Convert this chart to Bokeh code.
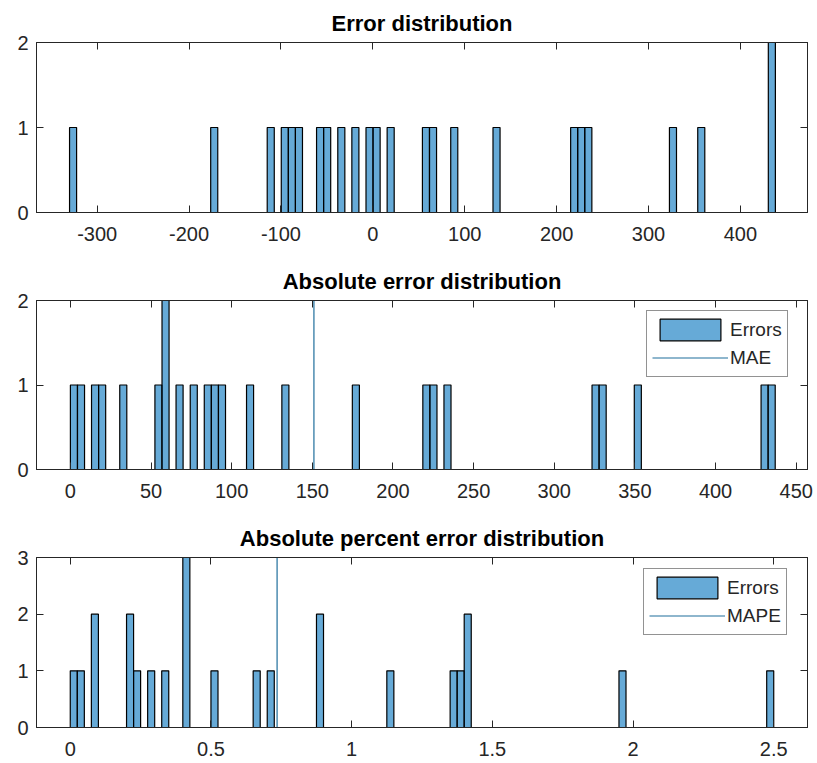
from bokeh.plotting import figure
from bokeh.models import Range1d, LinearAxis, FixedTicker, Legend, LegendItem, ColumnDataSource
from bokeh.layouts import column
from bokeh.embed import file_html
from bokeh.resources import INLINE

# ---------------- data ----------------
# Panel 1: error histogram (bin centres, counts)
err_bin_width = 7.68
err_centers = [-326.2, -172.6, -111.1, -95.8, -88.1, -80.4, -57.4, -49.7, -34.3, -19.0,
               -3.6, 4.1, 19.4, 57.8, 65.5, 88.6, 134.6, 219.1, 226.8, 234.5, 326.6, 357.4, 434.2]
err_counts = [1, 1, 1, 1, 1, 1, 1, 1, 1, 1, 1, 1, 1, 1, 1, 1, 1, 1, 1, 1, 1, 1, 2]
err_xticks = [-300, -200, -100, 0, 100, 200, 300, 400]
err_xlabels = ["-300", "-200", "-100", "0", "100", "200", "300", "400"]
err_yticks = [0, 1, 2]

# Panel 2: absolute error histogram
abs_bin_width = 4.37
abs_centers = [2.2, 6.6, 15.3, 19.7, 32.8, 54.6, 59.0, 67.7, 76.5, 85.2, 89.6, 94.0, 111.4,
               133.3, 177.0, 220.7, 225.1, 233.8, 325.6, 330.0, 351.8, 430.4, 434.8]
abs_counts = [1, 1, 1, 1, 1, 1, 2, 1, 1, 1, 1, 1, 1, 1, 1, 1, 1, 1, 1, 1, 1, 1, 1]
mae = 151.0
abs_xticks = [0, 50, 100, 150, 200, 250, 300, 350, 400, 450]
abs_xlabels = ["0", "50", "100", "150", "200", "250", "300", "350", "400", "450"]
abs_yticks = [0, 1, 2]

# Panel 3: absolute percent error histogram
pct_bin_width = 0.025
pct_centers = [0.0125, 0.0375, 0.0875, 0.2125, 0.2375, 0.2875, 0.3375, 0.4125, 0.5125,
               0.6625, 0.7125, 0.8875, 1.1375, 1.3625, 1.3875, 1.4125, 1.9625, 2.4875]
pct_counts = [1, 1, 2, 2, 1, 1, 1, 3, 1, 1, 1, 2, 1, 1, 1, 2, 1, 1]
mape = 0.735
pct_xticks = [0, 0.5, 1, 1.5, 2, 2.5]
pct_xlabels = ["0", "0.5", "1", "1.5", "2", "2.5"]
pct_yticks = [0, 1, 2, 3]

FONT = "Liberation Sans"
AX = "#262626"
BAR = "#0072BD"
LINE = "#1f6e9c"


def make_panel(title, xr, yr, xticks, xlabels, yticks, centers, counts, bw,
               height, top, bottom, ref=None, ref_label=None, legend_loc=None):
    p = figure(width=817, height=height, x_range=Range1d(*xr), y_range=Range1d(*yr),
               output_backend="svg", toolbar_location=None, title=title,
               min_border_left=36, min_border_right=10,
               min_border_top=top, min_border_bottom=bottom)
    p.xgrid.visible = False
    p.ygrid.visible = False
    p.outline_line_color = AX
    p.outline_line_width = 1
    p.title.text_font = FONT
    p.title.text_font_size = "22px"
    p.title.text_font_style = "bold"
    p.title.text_color = "#000000"
    p.title.align = "center"
    p.title.standoff = 13

    bottom_ax = p.below[0]
    left_ax = p.left[0]
    top_ax = LinearAxis()
    right_ax = LinearAxis()
    p.add_layout(top_ax, "above")
    p.add_layout(right_ax, "right")

    for ax in [bottom_ax, top_ax]:
        ax.ticker = FixedTicker(ticks=xticks, minor_ticks=[])
    for ax in [left_ax, right_ax]:
        ax.ticker = FixedTicker(ticks=yticks, minor_ticks=[])
    bottom_ax.major_label_overrides = {t: l for t, l in zip(xticks, xlabels)}
    left_ax.major_label_overrides = {t: str(t) for t in yticks}
    top_ax.major_label_overrides = {t: "" for t in xticks}
    right_ax.major_label_overrides = {t: "" for t in yticks}
    for ax in [bottom_ax, top_ax, left_ax, right_ax]:
        ax.axis_line_color = AX
        ax.major_tick_line_color = AX
        ax.major_tick_in = 7
        ax.major_tick_out = 0
        ax.minor_tick_line_color = None
        ax.minor_tick_in = 0
        ax.minor_tick_out = 0
        ax.major_label_text_font = FONT
        ax.major_label_text_font_size = "20px"
        ax.major_label_text_color = AX
    bottom_ax.major_label_standoff = 14
    left_ax.major_label_standoff = 8
    top_ax.major_label_standoff = 0
    right_ax.major_label_standoff = 0

    src = ColumnDataSource(dict(
        left=[c - bw / 2 for c in centers],
        right=[c + bw / 2 for c in centers],
        top=counts,
        bottom=[0] * len(counts),
    ))
    bars = p.quad(left="left", right="right", top="top", bottom="bottom", source=src,
                  fill_color=BAR, fill_alpha=0.6, line_color="#000000", line_width=1.2)

    if ref is not None:
        ln = p.line(x=[ref, ref], y=[yr[0], yr[1]], line_color=LINE, line_width=1.2)
        leg = Legend(items=[LegendItem(label="Errors", renderers=[bars]),
                            LegendItem(label=ref_label, renderers=[ln])],
                     location=legend_loc)
        leg.border_line_color = AX
        leg.border_line_width = 1
        leg.background_fill_color = "white"
        leg.background_fill_alpha = 1
        leg.glyph_width = 76
        leg.glyph_height = 27
        leg.label_height = 27
        leg.label_standoff = 2
        leg.padding = 5
        leg.spacing = 1
        leg.margin = 0
        leg.label_text_font = FONT
        leg.label_text_font_size = "19px"
        leg.label_text_color = AX
        p.add_layout(leg)
    return p


p1 = make_panel("Error distribution", (-366, 473), (0, 2), err_xticks, err_xlabels, err_yticks,
                err_centers, err_counts, err_bin_width, 258, 42, 46)
p2 = make_panel("Absolute error distribution", (-21, 457), (0, 2), abs_xticks, abs_xlabels,
                abs_yticks, abs_centers, abs_counts, abs_bin_width, 257, 42, 46,
                ref=mae, ref_label="MAE", legend_loc=(610, 92))
p3 = make_panel("Absolute percent error distribution", (-0.12, 2.62), (0, 3), pct_xticks,
                pct_xlabels, pct_yticks, pct_centers, pct_counts, pct_bin_width, 248, 42, 36,
                ref=mape, ref_label="MAPE", legend_loc=(607, 92))

layout = column(p1, p2, p3, spacing=0)
open("out.html", "w").write(file_html(layout, INLINE))
